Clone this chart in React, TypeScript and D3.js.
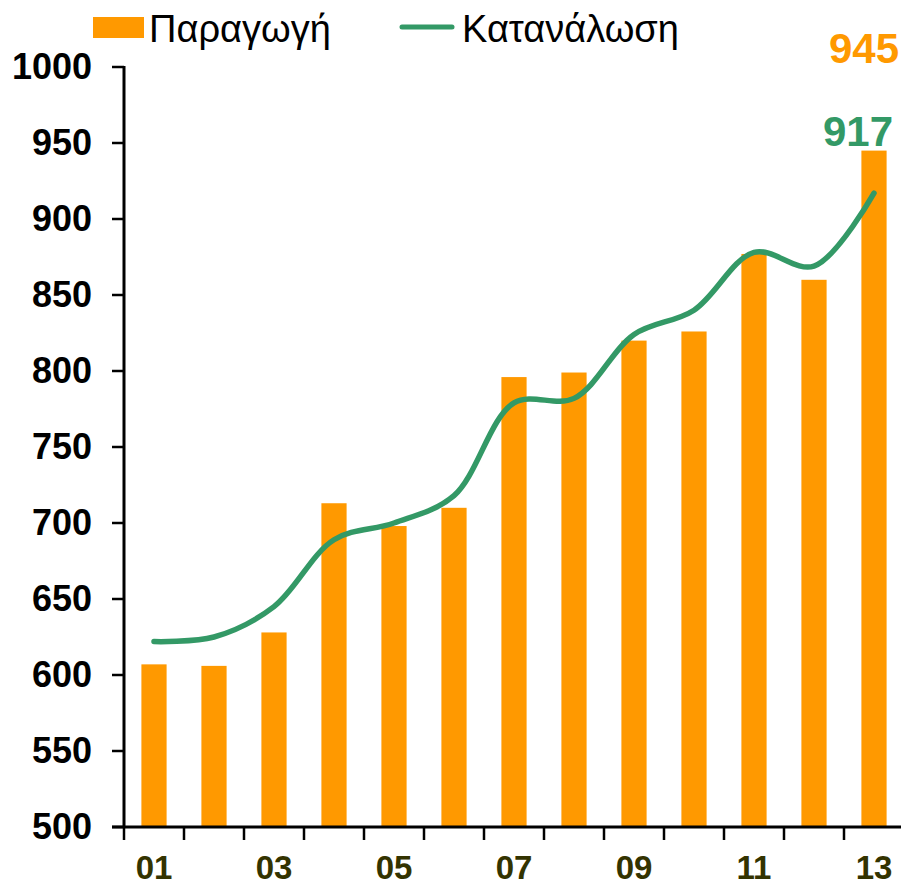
import React, { useEffect, useRef } from 'react';
import * as d3 from 'd3';

const categories = ['01', '02', '03', '04', '05', '06', '07', '08', '09', '10', '11', '12', '13'];
const production = [607, 606, 628, 713, 698, 710, 796, 799, 820, 826, 877, 860, 945];
const consumption = [622, 625, 645, 689, 700, 718, 779, 782, 824, 840, 878, 869, 917];
const yTicks = [500, 550, 600, 650, 700, 750, 800, 850, 900, 950, 1000];
const xLabels = ['01', '03', '05', '07', '09', '11', '13'];

const ORANGE = '#FF9900';
const GREEN = '#339966';

const App: React.FC = () => {
  const svgRef = useRef<SVGSVGElement>(null);

  useEffect(() => {
    if (!svgRef.current) return;
    const svg = d3.select(svgRef.current);
    svg.selectAll('*').remove();

    const font = 'Liberation Sans, Arial, sans-serif';
    const y = d3.scaleLinear().domain([500, 1000]).range([827, 67]);
    const x = d3.scaleBand<string>().domain(categories).range([124, 904]).paddingInner(0.58).paddingOuter(0.29);
    const cx = (c: string) => (x(c) as number) + x.bandwidth() / 2;

    // bars
    svg.append('g').selectAll('rect')
      .data(production)
      .join('rect')
      .attr('x', (_, i) => x(categories[i]) as number)
      .attr('y', d => y(d))
      .attr('width', x.bandwidth())
      .attr('height', d => y(500) - y(d))
      .attr('fill', ORANGE);

    // smoothed line
    const line = d3.line<number>()
      .x((_, i) => cx(categories[i]))
      .y(d => y(d))
      .curve(d3.curveCatmullRom.alpha(0.5));
    svg.append('path')
      .attr('d', line(consumption) as string)
      .attr('fill', 'none')
      .attr('stroke', GREEN)
      .attr('stroke-width', 5.5)
      .attr('stroke-linecap', 'round');

    // y axis
    const gy = svg.append('g');
    gy.append('line').attr('x1', 124).attr('x2', 124).attr('y1', y(1000) - 1).attr('y2', y(500) + 1)
      .attr('stroke', '#000').attr('stroke-width', 3);
    yTicks.forEach(t => {
      gy.append('line').attr('x1', 112).attr('x2', 124).attr('y1', y(t)).attr('y2', y(t))
        .attr('stroke', '#000').attr('stroke-width', 2.5);
      gy.append('text').attr('x', 92).attr('y', y(t) + 12)
        .attr('text-anchor', 'end').attr('font-family', font).attr('font-weight', 'bold')
        .attr('font-size', 36).attr('fill', '#000').text(t);
    });

    // x axis
    const gx = svg.append('g');
    gx.append('line').attr('x1', 112).attr('x2', 904).attr('y1', 827).attr('y2', 827)
      .attr('stroke', '#000').attr('stroke-width', 3);
    categories.forEach(c => {
      const xb = x(c) as number - x.step() * x.paddingInner() / 2;
      gx.append('line').attr('x1', xb).attr('x2', xb).attr('y1', 827).attr('y2', 840)
        .attr('stroke', '#000').attr('stroke-width', 2.5);
    });
    xLabels.forEach(c => {
      gx.append('text').attr('x', cx(c)).attr('y', 879)
        .attr('text-anchor', 'middle').attr('font-family', font).attr('font-weight', 'bold')
        .attr('font-size', 33).attr('fill', '#333300').text(c);
    });

    // end value labels
    const last = categories[categories.length - 1];
    svg.append('text').attr('x', cx(last) - 10).attr('y', 63)
      .attr('text-anchor', 'middle').attr('font-family', font).attr('font-weight', 'bold')
      .attr('font-size', 42).attr('fill', ORANGE).text(production[production.length - 1]);
    svg.append('text').attr('x', cx(last) - 16).attr('y', 146)
      .attr('text-anchor', 'middle').attr('font-family', font).attr('font-weight', 'bold')
      .attr('font-size', 42).attr('fill', GREEN).text(consumption[consumption.length - 1]);

    // legend
    const lg = svg.append('g');
    lg.append('rect').attr('x', 93).attr('y', 17).attr('width', 51).attr('height', 21).attr('fill', ORANGE);
    lg.append('text').attr('x', 149).attr('y', 42).attr('font-family', font)
      .attr('font-size', 38).attr('fill', '#000').text('Παραγωγή');
    lg.append('line').attr('x1', 402).attr('x2', 452).attr('y1', 27).attr('y2', 27)
      .attr('stroke', GREEN).attr('stroke-width', 5).attr('stroke-linecap', 'round');
    lg.append('text').attr('x', 462).attr('y', 42).attr('font-family', font)
      .attr('font-size', 38).attr('fill', '#000').text('Κατανάλωση');
  }, []);

  return (
    <svg ref={svgRef} width={901} height={886}
      style={{ position: 'absolute', left: 0, top: 0, background: '#fff' }} />
  );
};

export default App;
